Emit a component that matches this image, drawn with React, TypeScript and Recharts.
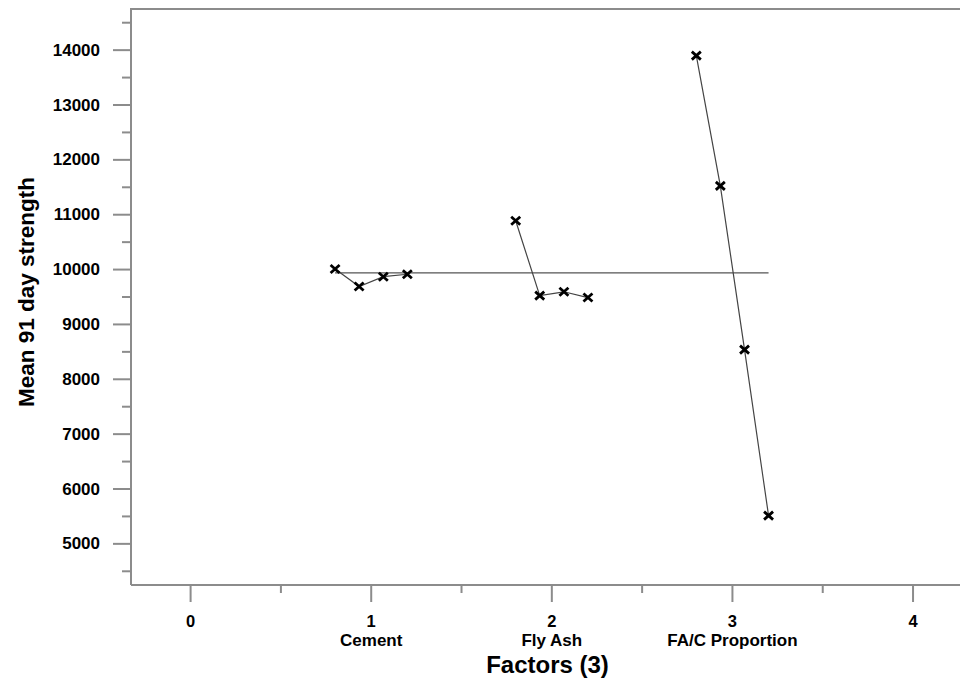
import React from "react";
import { LineChart, Line, XAxis, YAxis } from "recharts";

// factor level positions and mean 91 day strength readings
const CEMENT_X = [0.8, 0.933, 1.067, 1.2];
const CEMENT_Y = [10010, 9690, 9870, 9915];
const FLYASH_X = [1.8, 1.933, 2.067, 2.2];
const FLYASH_Y = [10890, 9525, 9595, 9490];
const FAC_X = [2.8, 2.933, 3.067, 3.2];
const FAC_Y = [13900, 11525, 8540, 5515];

const GRAND_MEAN = 9940;
const MEAN_SPAN = [0.8, 3.2];

const X_DOMAIN = [-0.33, 4.26];
const Y_DOMAIN = [4250, 14750];
const X_TICKS = [0, 0.5, 1, 1.5, 2, 2.5, 3, 3.5, 4];
const X_NAMES: Record<number, string> = { 1: "Cement", 2: "Fly Ash", 3: "FA/C Proportion" };
const Y_TICKS = [
  4500, 5000, 5500, 6000, 6500, 7000, 7500, 8000, 8500, 9000, 9500,
  10000, 10500, 11000, 11500, 12000, 12500, 13000, 13500, 14000, 14500,
];

const zip = (xs: number[], ys: number[]) => xs.map((x, i) => ({ x, y: ys[i] }));
const cement = zip(CEMENT_X, CEMENT_Y);
const flyAsh = zip(FLYASH_X, FLYASH_Y);
const faC = zip(FAC_X, FAC_Y);
const meanLine = MEAN_SPAN.map((x) => ({ x, y: GRAND_MEAN }));

const AXIS = "#8c8c8c";
const FONT = "'Liberation Sans', Arial, Helvetica, sans-serif";

function XMark(props: any) {
  const { cx, cy } = props;
  if (cx == null || cy == null) return null;
  return (
    <path
      d={`M${cx - 4.5},${cy - 4}L${cx + 4.5},${cy + 4}M${cx + 4.5},${cy - 4}L${cx - 4.5},${cy + 4}`}
      stroke="#000"
      strokeWidth={2.8}
      fill="none"
    />
  );
}

function YTick({ x, y, payload }: any) {
  const major = payload.value % 1000 === 0;
  return (
    <g>
      <line x1={x - (major ? 18 : 9)} x2={x} y1={y} y2={y} stroke={AXIS} strokeWidth={2} />
      {major && (
        <text x={x - 31} y={y} textAnchor="end" dominantBaseline="central"
          fontFamily={FONT} fontWeight="bold" fontSize={17} fill="#000">
          {payload.value}
        </text>
      )}
    </g>
  );
}

function XTick({ x, y, payload }: any) {
  const major = Number.isInteger(payload.value);
  const name = X_NAMES[payload.value];
  return (
    <g>
      <line x1={x} x2={x} y1={y} y2={y + (major ? 17 : 8)} stroke={AXIS} strokeWidth={2} />
      {major && (
        <text x={x} y={y + 36} textAnchor="middle" dominantBaseline="central"
          fontFamily={FONT} fontWeight="bold" fontSize={16.5} fill="#000">
          {payload.value}
        </text>
      )}
      {name && (
        <text x={x} y={y + 55} textAnchor="middle" dominantBaseline="central"
          fontFamily={FONT} fontWeight="bold" fontSize={17} fill="#000">
          {name}
        </text>
      )}
    </g>
  );
}

function YTitle({ viewBox }: any) {
  const cx = 26;
  const cy = viewBox.y + viewBox.height / 2 - 5;
  return (
    <text x={cx} y={cy} transform={`rotate(-90, ${cx}, ${cy})`} textAnchor="middle"
      dominantBaseline="central" fontFamily={FONT} fontWeight="bold" fontSize={22.5} fill="#000">
      Mean 91 day strength
    </text>
  );
}

function XTitle({ viewBox }: any) {
  const cx = viewBox.x + viewBox.width / 2 + 2;
  return (
    <text x={cx} y={664} textAnchor="middle" dominantBaseline="central"
      fontFamily={FONT} fontWeight="bold" fontSize={24} fill="#000">
      Factors (3)
    </text>
  );
}

export default function App() {
  return (
    <div style={{ position: "absolute", left: 0, top: 0, width: 960, height: 679, background: "#fff" }}>
      {/* top frame line of the plot box */}
      <div style={{ position: "absolute", left: 130, top: 8, width: 830, height: 2, background: AXIS }} />
      <LineChart width={960} height={679} margin={{ top: 9, right: 0, bottom: 0, left: 0 }}>
        <XAxis
          type="number"
          dataKey="x"
          domain={X_DOMAIN}
          ticks={X_TICKS}
          interval={0}
          allowDataOverflow
          height={94}
          tickSize={0}
          tickMargin={0}
          tickLine={false}
          tick={<XTick />}
          axisLine={{ stroke: AXIS, strokeWidth: 2 }}
          label={{ content: <XTitle /> }}
        />
        <YAxis
          type="number"
          dataKey="y"
          domain={Y_DOMAIN}
          ticks={Y_TICKS}
          interval={0}
          allowDataOverflow
          width={131}
          tickSize={0}
          tickMargin={0}
          tickLine={false}
          tick={<YTick />}
          axisLine={{ stroke: AXIS, strokeWidth: 2 }}
          label={{ content: <YTitle /> }}
        />
        <Line data={meanLine} dataKey="y" stroke="#555" strokeWidth={1.2} dot={false} isAnimationActive={false} />
        <Line data={cement} dataKey="y" stroke="#444" strokeWidth={1.2} dot={(p: any) => <XMark {...p} key={`c${p.index}`} />} isAnimationActive={false} />
        <Line data={flyAsh} dataKey="y" stroke="#444" strokeWidth={1.2} dot={(p: any) => <XMark {...p} key={`f${p.index}`} />} isAnimationActive={false} />
        <Line data={faC} dataKey="y" stroke="#444" strokeWidth={1.2} dot={(p: any) => <XMark {...p} key={`p${p.index}`} />} isAnimationActive={false} />
      </LineChart>
    </div>
  );
}
